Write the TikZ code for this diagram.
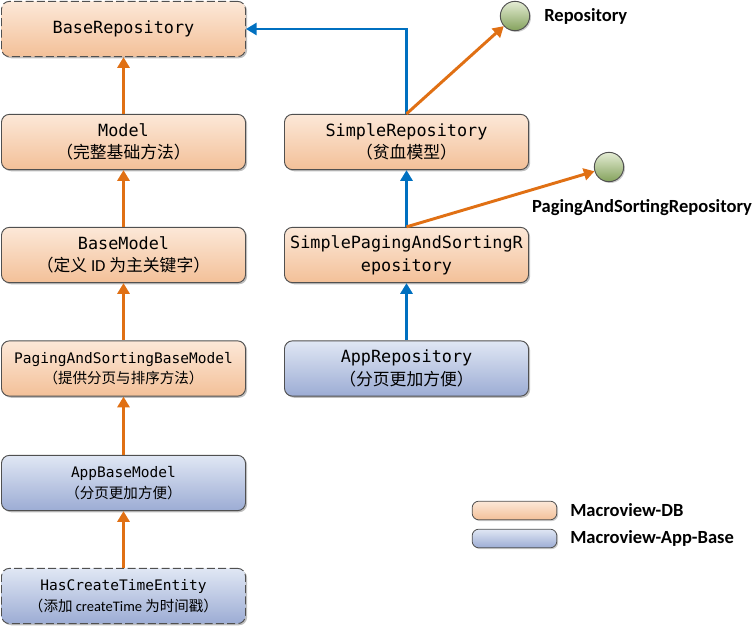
\documentclass[tikz,border=0pt]{standalone}
\usepackage{fontspec}
\setmainfont{Carlito}
\newfontfamily\cjk{Noto Sans CJK SC}
\newfontfamily\mono{DejaVu Sans Mono}
\usetikzlibrary{arrows.meta,shadows}
\definecolor{orTop}{RGB}{252,232,216}
\definecolor{orBot}{RGB}{243,192,152}
\definecolor{blTop}{RGB}{224,231,244}
\definecolor{blBot}{RGB}{156,172,212}
\definecolor{arrOr}{RGB}{224,112,20}
\definecolor{arrBl}{RGB}{0,112,192}
\definecolor{ballTop}{RGB}{228,236,212}
\definecolor{ballBot}{RGB}{132,162,92}
\definecolor{edge}{RGB}{80,80,80}
\tikzset{
  box/.style={rounded corners=6pt, draw=edge, line width=0.7pt, minimum width=183pt, minimum height=41.5pt,
    align=center, inner sep=1pt, drop shadow={shadow xshift=1.2pt, shadow yshift=-1.2pt, opacity=0.25, fill=black}},
  orbox/.style={box, top color=orTop, bottom color=orBot},
  blbox/.style={box, top color=blTop, bottom color=blBot},
  big/.style={font=\mono\fontsize{12.6}{17}\selectfont},
  small/.style={font=\mono\fontsize{10.9}{15.5}\selectfont},
  dashedbox/.style={dash pattern=on 6pt off 2.5pt},
  orarrow/.style={draw=arrOr, line width=2.2pt, -{Triangle[length=8pt,width=9pt]}},
  blarrow/.style={draw=arrBl, line width=2.2pt, -{Triangle[length=8pt,width=9pt]}},
  ball/.style={circle, draw=edge, line width=0.7pt, minimum size=22pt, inner sep=0pt, top color=ballTop, bottom color=ballBot,
    drop shadow={shadow xshift=1pt, shadow yshift=-1pt, opacity=0.2, fill=black}},
  lbl/.style={font=\bfseries\fontsize{13.9}{16}\selectfont, inner sep=0pt},
  legbox/.style={rounded corners=5pt, draw=edge, line width=0.6pt, minimum width=63.5pt, minimum height=14pt, inner sep=0pt,
    drop shadow={shadow xshift=1pt, shadow yshift=-1pt, opacity=0.2, fill=black}}
}
\begin{document}
\begin{tikzpicture}[x=0.75pt,y=-0.75pt]
\useasboundingbox (0,0) rectangle (754,627);
% left column
\node[orbox,big,dashedbox] (BR) at (123.5,29) {BaseRepository};
\node[orbox,big] (M) at (123.5,142) {Model\\{\cjk （完整基础方法）}};
\node[orbox,big] (BM) at (123.5,255) {BaseModel\\{\cjk （定义\ }{\rmfamily ID}{\cjk\ 为主关键字）}};
\node[orbox,small] (PSBM) at (123.5,368.5) {PagingAndSortingBaseModel\\{\cjk （提供分页与排序方法）}};
\node[blbox,small] (ABM) at (123.5,483) {AppBaseModel\\{\cjk （分页更加方便）}};
\node[blbox,small,dashedbox] (HCT) at (123.5,596) {HasCreateTimeEntity\\{\cjk （添加\ }{\rmfamily createTime}{\cjk\ 为时间戳）}};
% right column
\node[orbox,big] (SR) at (406.5,142) {SimpleRepository\\{\cjk （贫血模型）}};
\node[orbox,big] (SP) at (406.5,255) {SimplePagingAndSortingR\\epository};
\node[blbox,big] (AR) at (406.5,368.5) {AppRepository\\{\cjk （分页更加方便）}};
% interfaces
\node[ball] (RI) at (515,16) {};
\node[lbl, anchor=west] (RIl) at (544,16) {Repository};
\node[ball] (PI) at (609,167) {};
\node[lbl] (PIl) at (642,208) {PagingAndSortingRepository};
% legend
\node[legbox, top color=orTop, bottom color=orBot] (L1) at (514.5,510.5) {};
\node[lbl, anchor=west] (L1l) at (570,510.5) {Macroview-DB};
\node[legbox, top color=blTop, bottom color=blBot] (L2) at (514.5,538.5) {};
\node[lbl, anchor=west] (L2l) at (570,538.5) {Macroview-App-Base};
% connectors
\draw[orarrow] (M.north) -- (BR.south);
\draw[orarrow] (BM.north) -- (M.south);
\draw[orarrow] (PSBM.north) -- (BM.south);
\draw[orarrow] (ABM.north) -- (PSBM.south);
\draw[orarrow] (HCT.north) -- (ABM.south);
\draw[blarrow] (SR.north) |- (BR.east);
\draw[orarrow] (SR.north) -- (RI);
\draw[blarrow] (SP.north) -- (SR.south);
\draw[orarrow] (SP.north) -- (PI);
\draw[blarrow] (AR.north) -- (SP.south);
\end{tikzpicture}
\end{document}
